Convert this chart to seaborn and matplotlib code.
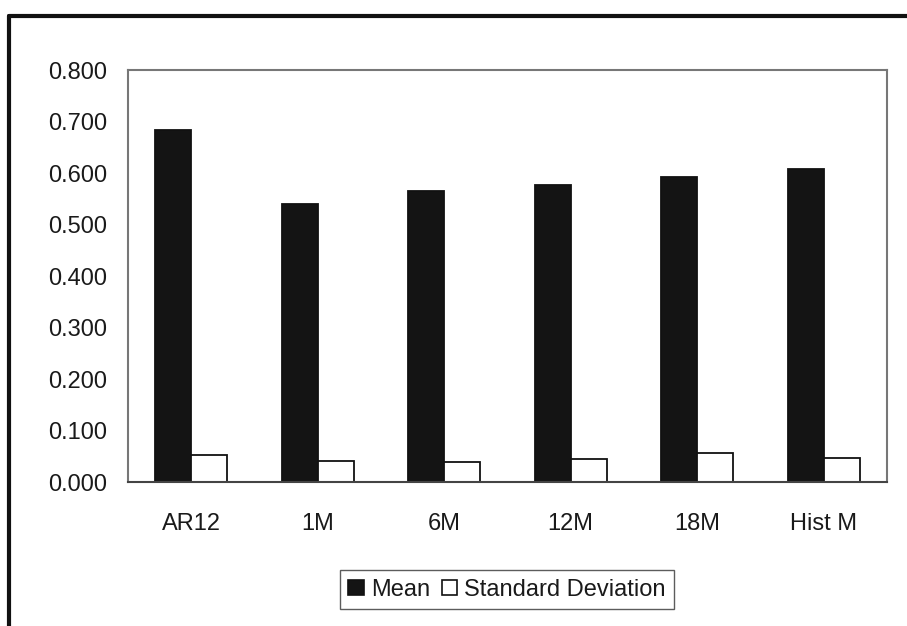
import pandas as pd
import seaborn as sns
import matplotlib.pyplot as plt
from matplotlib.lines import Line2D
from matplotlib.patches import Patch

sns.set_style("white")
plt.rcParams['font.family'] = ['Liberation Sans', 'DejaVu Sans']

# values
models = ['AR12', '1M', '6M', '12M', '18M', 'Hist M']
mean_vals = [0.684, 0.540, 0.566, 0.576, 0.593, 0.608]
sd_vals = [0.052, 0.040, 0.039, 0.045, 0.056, 0.047]
series = ['Mean', 'Standard Deviation']
yticks = [0.0, 0.1, 0.2, 0.3, 0.4, 0.5, 0.6, 0.7, 0.8]

df = pd.DataFrame({
    'model': models * 2,
    'value': mean_vals + sd_vals,
    'series': [series[0]] * len(models) + [series[1]] * len(models),
})

fig = plt.figure(figsize=(9.07, 6.26), dpi=100)
ax = fig.add_axes([0.1411, 0.230, 0.8368, 0.658])

colors = {'Mean': '#141414', 'Standard Deviation': 'white'}
sns.barplot(data=df, x='model', y='value', hue='series', palette=colors,
            width=0.57, gap=0, edgecolor='#111111', linewidth=1.3,
            legend=False, ax=ax)

ax.set_ylim(0, 0.8)
ax.set_xlim(-0.5, len(models) - 0.5)
ax.set_yticks(yticks)
ax.set_yticklabels([f'{v:.3f}' for v in yticks])
ax.set_xlabel('')
ax.set_ylabel('')

# category ticks sit between groups, labels in the middle
ax.set_xticks([i - 0.5 for i in range(len(models) + 1)], minor=False)
ax.set_xticklabels([''] * (len(models) + 1))
ax.set_xticks(range(len(models)), minor=True)
ax.set_xticklabels(models, minor=True)
ax.tick_params(axis='x', which='major', length=6, width=1, color='#666666', direction='out')
ax.tick_params(axis='x', which='minor', length=0, pad=22, labelsize=17, labelcolor='#1a1a1a')
ax.tick_params(axis='y', length=6, width=1, color='#666666', direction='out',
               pad=9, labelsize=17, labelcolor='#1a1a1a')

for side in ['left', 'bottom', 'top', 'right']:
    ax.spines[side].set_visible(True)
    ax.spines[side].set_color('#777777')
    ax.spines[side].set_linewidth(1.5)
ax.spines['bottom'].set_color('#444444')

handles = [Patch(facecolor=colors[s], edgecolor='#111111', linewidth=1.2) for s in series]
leg = fig.legend(handles, series, loc='center', bbox_to_anchor=(0.559, 0.058),
                 ncol=2, fontsize=17, frameon=True, fancybox=False,
                 handlelength=0.65, handleheight=0.65, handletextpad=0.3,
                 columnspacing=0.5, borderpad=0.35)
leg.get_frame().set_edgecolor('#333333')
leg.get_frame().set_linewidth(1.0)
for t in leg.get_texts():
    t.set_color('#1a1a1a')

# outer frame of the scanned page (top and left edges only)
fig.add_artist(Line2D([9 / 907, 1.0], [1 - 16 / 626, 1 - 16 / 626],
                      transform=fig.transFigure, color='#111111', linewidth=3))
fig.add_artist(Line2D([9 / 907, 9 / 907], [0.0, 1 - 16 / 626],
                      transform=fig.transFigure, color='#111111', linewidth=3))

fig.savefig('out.png', dpi=100)
plt.close(fig)
